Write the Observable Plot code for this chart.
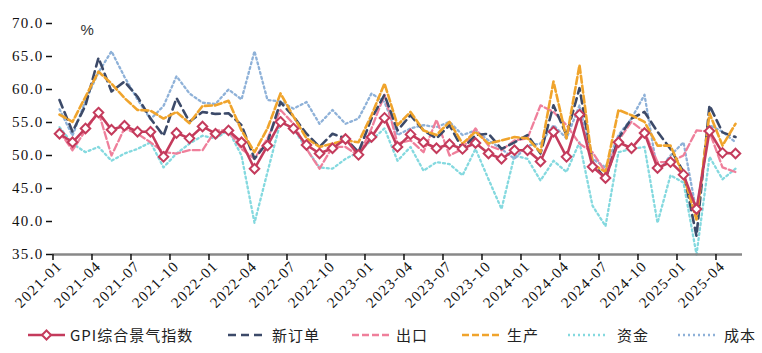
<!DOCTYPE html>
<html><head><meta charset="utf-8">
<script src="https://cdn.jsdelivr.net/npm/d3@7"></script>
<script src="https://cdn.jsdelivr.net/npm/@observablehq/plot@0.6"></script>
<style>
body{margin:0;background:#fff;}
#chart{width:762px;height:353px;position:relative;}
#chart svg{display:block;}
#chart svg text.serif, #chart svg g.serif text{font-family:"Liberation Serif", "Times New Roman", serif !important;}
</style></head><body><div id="chart"></div>
<script>
// categories: 2021-01 … 2025-05 (53 months)
const months = [];
for (let y = 2021; y <= 2025; y++) for (let m = 1; m <= 12; m++) {
  if (y === 2025 && m > 5) break;
  months.push(`${y}-${String(m).padStart(2, "0")}`);
}
const tickLabels = months.filter((d, i) => i % 3 === 0);
const yTicks = [35, 40, 45, 50, 55, 60, 65, 70];

const gpi = [53.3,52.0,54.1,56.5,53.9,54.5,53.6,53.6,49.8,53.4,52.6,54.4,53.3,53.8,52.0,48.0,51.5,55.1,54.1,51.6,50.3,51.1,52.5,50.1,52.8,55.7,51.3,53.2,52.0,51.1,51.7,51.0,51.9,50.3,49.5,50.8,50.8,49.1,53.6,49.8,56.2,48.3,46.6,52.0,51.1,53.4,48.1,49.0,47.1,41.9,53.7,50.4,50.3];
const newOrders = [58.4,53.6,57.6,64.8,59.7,61.2,58.9,55.6,53.0,58.7,55.1,56.6,56.3,56.4,54.6,49.5,52.0,58.1,55.9,53.3,51.3,53.3,52.6,50.5,55.6,59.2,53.8,56.1,53.8,52.6,54.6,51.0,53.1,53.3,51.0,52.0,53.1,50.3,57.6,53.1,60.2,49.0,46.4,52.6,55.6,56.6,53.6,51.0,47.5,37.8,57.6,53.5,52.8];
const exportsIdx = [53.6,50.8,53.8,56.6,50.0,54.1,53.3,52.0,50.5,50.3,50.8,50.8,53.8,53.8,51.0,49.5,52.6,56.9,54.8,51.0,48.0,51.3,51.3,50.0,54.1,59.2,51.8,52.3,50.5,55.4,50.0,51.0,54.1,51.5,50.8,52.3,52.6,57.6,56.6,54.6,51.8,50.5,47.5,52.3,55.1,53.6,49.0,49.0,50.0,53.8,53.6,48.2,47.5];
const production = [56.2,55.1,58.9,62.7,60.9,58.7,56.9,56.8,55.6,56.6,54.9,57.5,57.6,58.3,53.8,50.5,54.1,59.4,55.9,52.6,51.3,51.8,52.3,52.0,56.1,60.9,54.6,56.6,53.8,53.1,55.1,51.8,53.6,51.8,52.3,52.8,52.6,50.5,61.2,52.6,63.7,48.7,47.5,56.9,56.1,55.1,51.5,51.5,47.0,40.3,56.4,51.5,54.8];
const funds = [54.3,51.8,50.5,51.3,49.2,50.3,51.0,52.0,48.2,50.3,51.8,53.0,52.6,53.8,50.0,39.8,47.5,55.1,54.1,51.0,48.2,48.0,49.5,50.5,52.3,54.1,49.2,51.3,47.7,49.0,48.7,47.0,51.0,46.4,41.9,50.0,49.5,46.2,49.2,47.5,52.0,42.4,39.3,50.5,51.0,51.3,39.8,47.0,45.9,35.0,49.8,46.4,48.0];
const costs = [57.0,53.0,58.3,62.6,65.8,61.9,58.5,55.5,57.5,62.0,59.4,58.0,57.8,60.0,58.5,65.8,58.4,58.2,57.1,58.1,54.8,56.9,54.8,55.6,59.4,58.1,53.1,54.1,54.6,54.3,55.1,53.1,53.8,52.3,51.0,49.5,51.5,51.8,54.6,52.6,57.6,49.5,48.2,53.1,55.6,59.2,47.5,50.0,52.0,41.4,54.6,53.6,52.0];

const series = [
  {name: "资金", values: funds, color: "#84d9df", dash: "2,3", width: 2.3},
  {name: "成本", values: costs, color: "#8eb1d8", dash: "2,3", width: 2.3},
  {name: "出口", values: exportsIdx, color: "#ef7f9b", dash: "7,3", width: 2.3},
  {name: "新订单", values: newOrders, color: "#3c4a69", dash: "8,5", width: 2.6},
  {name: "生产", values: production, color: "#f0a42c", dash: "7,3", width: 2.6},
  {name: "GPI综合景气指数", values: gpi, color: "#c43b5c", dash: null, width: 2.6}
];
const toRows = s => s.values.map((v, i) => ({month: months[i], value: v, name: s.name}));

const W = 762, H = 320, ML = 52, MR = 20;
const step = (W - ML - MR) / months.length;
const serifFont = "Liberation Serif";

const marks = [
  Plot.axisY(yTicks, {tickFormat: d => d.toFixed(1), tickSize: 6, tickPadding: 3, line: true,
    stroke: "#111", strokeWidth: 1.5, fontSize: 15, fontFamily: serifFont, className: "serif", label: null}),
  ...series.map(s => Plot.lineY(toRows(s), {x: "month", y: "value", stroke: s.color,
    strokeWidth: s.width, strokeDasharray: s.dash, strokeLinejoin: "round"})),
  Plot.dot(toRows(series[5]), {x: "month", y: "value", symbol: "diamond2", r: 4.3,
    fill: "white", stroke: series[5].color, strokeWidth: 2}),
  Plot.ruleY([35], {stroke: "#888", strokeWidth: 2.5}),
  Plot.axisX(tickLabels, {tickSize: 6, tickFormat: () => "", dx: -step / 2, stroke: "#111", strokeWidth: 1.5, label: null}),
  Plot.axisX(tickLabels, {tickSize: 0, tickPadding: 9, tickRotate: -45, fontSize: 15, fontFamily: serifFont, className: "serif", label: null}),
  Plot.text(["%"], {frameAnchor: "top-left", dx: 28, dy: 1, fontSize: 15, fontFamily: "Liberation Sans", fill: "#333"})
];

const chart = Plot.plot({
  width: W, height: H,
  marginLeft: ML, marginRight: MR, marginTop: 23, marginBottom: 66,
  style: {fontSize: "15px", letterSpacing: "1.3px", color: "#111", background: "#fff"},
  x: {type: "point", domain: months, padding: 0.5},
  y: {domain: [35, 70]},
  marks
});
document.getElementById("chart").appendChild(chart);
d3.select(chart).selectAll("g.serif text").attr("font-family", serifFont).style("font-family", serifFont);

// legend below the plot
const legend = d3.select("#chart").append("svg").attr("width", W).attr("height", 33);
const items = [
  {s: series[5], x0: 28, x1: 65, tx: 70},
  {s: series[3], x0: 228, x1: 262, tx: 272},
  {s: series[2], x0: 352, x1: 392, tx: 396},
  {s: series[4], x0: 462, x1: 502, tx: 507},
  {s: series[0], x0: 568, x1: 607, tx: 617},
  {s: series[1], x0: 678, x1: 716, tx: 724}
];
const cy = 15;
items.forEach(it => {
  legend.append("line").attr("x1", it.x0).attr("x2", it.x1).attr("y1", cy).attr("y2", cy)
    .attr("stroke", it.s.color).attr("stroke-width", it.s.width)
    .attr("stroke-dasharray", it.s.dash);
  if (it.s === series[5]) {
    const c = (it.x0 + it.x1) / 2;
    legend.append("path").attr("d", `M${c},${cy-4.5}L${c+4.5},${cy}L${c},${cy+4.5}L${c-4.5},${cy}Z`)
      .attr("fill", "white").attr("stroke", it.s.color).attr("stroke-width", 2);
  }
  legend.append("text").attr("x", it.tx).attr("y", cy + 5.5).text(it.s.name)
    .attr("font-family", "'Noto Sans CJK SC'").attr("font-size", 15)
    .attr("letter-spacing", "1px").attr("fill", "#222");
});
</script>
</body></html>
